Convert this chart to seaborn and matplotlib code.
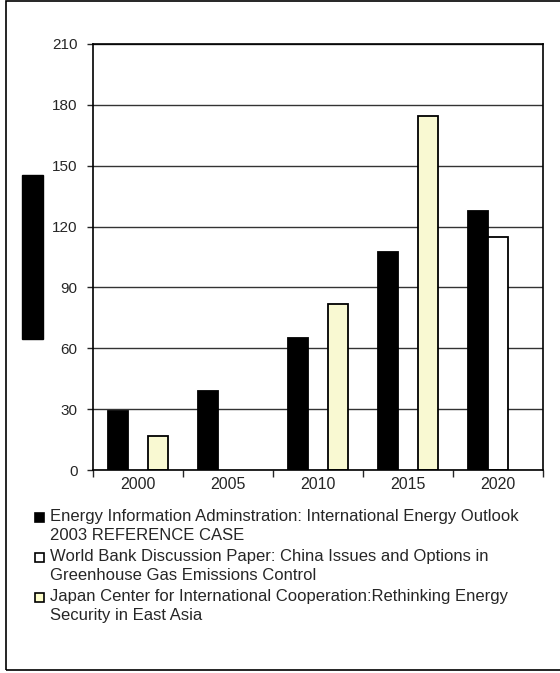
import pandas as pd
import numpy as np
import matplotlib
matplotlib.use('Agg')
import matplotlib.pyplot as plt
from matplotlib.patches import Rectangle
import seaborn as sns

# ---- data ----
years = ['2000', '2005', '2010', '2015', '2020']
eia = [29, 39, 65, 107.5, 127.5]
world_bank = [np.nan, np.nan, np.nan, np.nan, 115]
japan = [17, np.nan, 82, 174.5, np.nan]

series = [
    'Energy Information Adminstration: International Energy Outlook\n2003 REFERENCE CASE',
    'World Bank Discussion Paper: China Issues and Options in\nGreenhouse Gas Emissions Control',
    'Japan Center for International Cooperation:Rethinking Energy\nSecurity in East Asia',
]
colors = ['#000000', '#ffffff', '#ffffcc']

df = pd.DataFrame({
    'year': years * 3,
    'value': eia + world_bank + japan,
    'source': [series[0]] * 5 + [series[1]] * 5 + [series[2]] * 5,
})

sns.set_style("white")
plt.rcParams['font.family'] = ['Liberation Sans', 'DejaVu Sans']

W, H = 560, 673
fig = plt.figure(figsize=(W / 100, H / 100), dpi=100)
ax = fig.add_axes([93 / W, 1 - 470 / H, 450 / W, 426 / H])

sns.barplot(data=df, x='year', y='value', hue='source', hue_order=series,
            palette=dict(zip(series, colors)), width=0.667, edgecolor='black',
            linewidth=1.3, ax=ax, legend=False)

ax.set_ylim(0, 210)
ax.set_xlim(-0.5, 4.5)
ax.set_yticks(range(0, 211, 30))
ax.set_xlabel('')
ax.set_ylabel('')

# gridlines
ax.yaxis.grid(True, color='#333333', linewidth=1)
ax.set_axisbelow(True)
for s in ax.spines.values():
    s.set_color('black')
    s.set_linewidth(1.2)
    s.set_visible(True)

# ticks: labels centred, marks at category boundaries
ax.set_xticks(np.arange(-0.5, 5, 1), minor=True)
ax.tick_params(axis='x', which='major', length=0, pad=5, labelsize=11.5)
ax.tick_params(axis='x', which='minor', length=5, width=1, direction='out', bottom=True)
ax.tick_params(axis='y', length=4, width=1, direction='out', left=True, pad=7, labelsize=11)

# the blacked-out axis title block
fig.patches.append(Rectangle((22 / W, 1 - 339 / H), 21 / W, 164 / H,
                             transform=fig.transFigure, color='black'))
# outer frame
fig.patches.append(Rectangle((6 / W, 1 - 670 / H), 600 / W, 669 / H,
                             transform=fig.transFigure, fill=False,
                             edgecolor='black', linewidth=1.2))

# legend below the plot: square key beside the first line of each entry
for i, (label, c) in enumerate(zip(series, colors)):
    y0 = 517 + 40 * i
    fig.patches.append(Rectangle((35 / W, 1 - (y0 + 5) / H), 9 / W, 9 / H,
                                 transform=fig.transFigure, facecolor=c,
                                 edgecolor='black', linewidth=1.2))
    fig.text(50 / W, 1 - (y0 - 8) / H, label, fontsize=12, va='top', ha='left',
             linespacing=1.32)

plt.savefig('out.png', dpi=100)
